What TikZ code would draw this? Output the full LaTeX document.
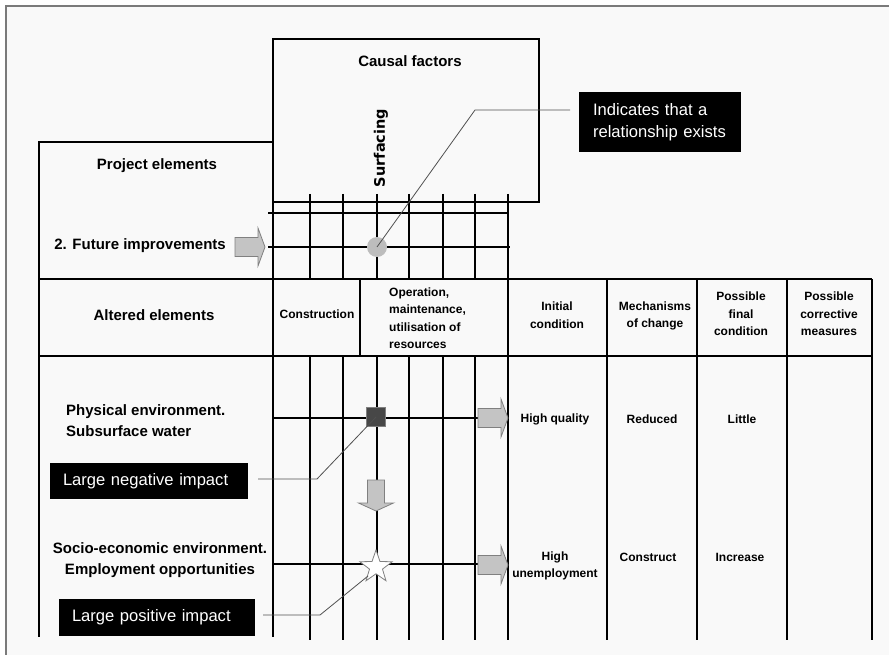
\documentclass[tikz,border=0pt]{standalone}
\usepackage{fontspec}
\setmainfont{Liberation Sans}
\newfontfamily\surffont{DejaVu Sans}
\usetikzlibrary{shapes.geometric}

\definecolor{paper}{HTML}{F9F9F9}
\definecolor{framegray}{HTML}{7A7A7A}
\definecolor{arrowfill}{HTML}{C4C4C4}
\definecolor{arrowline}{HTML}{808080}
\definecolor{dotgray}{HTML}{BDBDBD}
\definecolor{squaredark}{HTML}{474747}
\definecolor{leadergray}{HTML}{505050}

\tikzset{
  grid/.style={line width=1.8pt, black},
  biglabel/.style={font=\fontsize{15}{21}\selectfont\bfseries, inner sep=0pt},
  headtext/.style={font=\fontsize{12}{17.5}\selectfont\bfseries, align=center, inner sep=0pt},
  callout/.style={fill=black, text=white, font=\fontsize{16.6}{22}\selectfont,
    inner ysep=0pt, align=left},
  leader/.style={leadergray, line width=0.8pt},
  barrow/.style={fill=arrowfill, draw=arrowline, line width=0.8pt},
  rarrow/.pic={\path[barrow] (0,-9.5) -- (23,-9.5) -- (23,-19) -- (30,0)
      -- (23,19) -- (23,9.5) -- (0,9.5) -- cycle;},
  darrow/.pic={\path[barrow] (-8.5,0) -- (-8.5,23) -- (-17.5,23) -- (0,31)
      -- (17.5,23) -- (8.5,23) -- (8.5,0) -- cycle;}
}

\begin{document}
\begin{tikzpicture}[x=1pt,y=-1pt]
  % page and frame
  \useasboundingbox (0,0) rectangle (889,655);
  \fill[white] (0,0) rectangle (889,655);
  \fill[paper] (5.5,6) rectangle (889,655);
  \draw[framegray, line width=2pt] (5.5,655) -- (5.5,6) -- (889,6);

  % causal factors box and project elements box
  \draw[grid] (273,202) -- (273,39) -- (539,39) -- (539,202) -- (273,202);
  \draw[grid] (273,142) -- (39,142) -- (39,637);
  \draw[grid] (273,39) -- (273,637);

  % header row of the table
  \draw[grid] (39,279) -- (872,279);
  \draw[grid] (39,356) -- (872,356);
  \draw[grid] (360,279) -- (360,356);
  \draw[grid] (508,194) -- (508,640);
  \foreach \cx in {607,697,787,872}
    \draw[grid] (\cx,279) -- (\cx,640);

  % matrix grid above and below the header
  \foreach \gx in {310,343,377,409,443,475} {
    \draw[grid] (\gx,194) -- (\gx,279);
    \draw[grid] (\gx,356) -- (\gx,640);
  }
  \draw[grid] (268,213) -- (508,213);
  \draw[grid] (268,247) -- (510,247);
  \draw[grid] (273,418) -- (478,418);
  \draw[grid] (273,564) -- (478,564);

  % texts of the upper part
  \node[biglabel] (causal) at (410,61) {Causal factors};
  \node[inner sep=0pt, rotate=90, font=\surffont\fontsize{14.5}{17}\selectfont\bfseries]
    (surf) at (381,148) {Surfacing};
  \node[biglabel] (projel) at (157,166) {Project elements};
  \node[biglabel, anchor=east] (future) at (226,246) {2. Future improvements};

  % header texts
  \node[biglabel] (altered) at (154,315) {Altered elements};
  \node[headtext] (constr) at (317,314) {Construction};
  \node[headtext, align=left, anchor=west] (operat) at (389,318)
    {Operation,\\maintenance,\\utilisation of\\resources};
  \node[headtext] (initc) at (557,315) {Initial\\condition};
  \node[headtext] (mech) at (655,316) {Mechanisms\\of change};
  \node[headtext] (finalc) at (741,314) {Possible\\final\\condition};
  \node[headtext] (corr) at (829,314) {Possible\\corrective\\measures};

  % body texts
  \node[biglabel, align=left, anchor=west] (phys) at (66,421)
    {Physical environment.\\Subsurface water};
  \node[biglabel, align=center] (socio) at (160,560)
    {Socio-economic environment.\\Employment opportunities};
  \node[headtext] (hq) at (555,419) {High quality};
  \node[headtext] (red) at (652,419) {Reduced};
  \node[headtext] (lit) at (742,419) {Little};
  \node[headtext] (hun) at (555,566) {High\\unemployment};
  \node[headtext] (cons) at (648,557) {Construct};
  \node[headtext] (inc) at (740,557) {Increase};

  % impact markers
  \node[circle, minimum size=20pt, inner sep=0pt, fill=dotgray] (rel) at (377,247) {};
  \node[rectangle, minimum size=19pt, inner sep=0pt, fill=squaredark,
    draw=gray, line width=0.6pt] (neg) at (376,417) {};
  \node[star, star points=5, star point ratio=2.5, minimum size=34pt, inner sep=0pt,
    fill=white, draw=gray, line width=0.8pt] (pos) at (376,567) {};

  % block arrows
  \pic at (235,247) {rarrow};
  \pic at (478,418) {rarrow};
  \pic at (478,565) {rarrow};
  \pic at (376,480) {darrow};

  % callouts
  \node[callout, text width=134pt, inner xsep=14pt, minimum height=60pt]
    (ind) at (660,122) {Indicates that a\\relationship exists};
  \node[callout, text width=172pt, inner xsep=13pt, minimum height=36pt]
    (negbox) at (149,481) {Large negative impact};
  \node[callout, text width=170pt, inner xsep=13pt, minimum height=37pt]
    (posbox) at (157,617.5) {Large positive impact};

  % leader lines from callouts to markers
  \coordinate (indend) at (570,110);
  \coordinate (indbend) at (475,110);
  \draw[leader] (indend) -- (indbend) -- (rel.center);
  \coordinate (negend) at (258,479);
  \coordinate (negbend) at (317,479);
  \draw[leader] (negend) -- (negbend) -- (neg.center);
  \coordinate (posend) at (263,615);
  \coordinate (posbend) at (320,615);
  \draw[leader] (posend) -- (posbend) -- ([shift={(-8,9)}]pos.center);
\end{tikzpicture}
\end{document}
